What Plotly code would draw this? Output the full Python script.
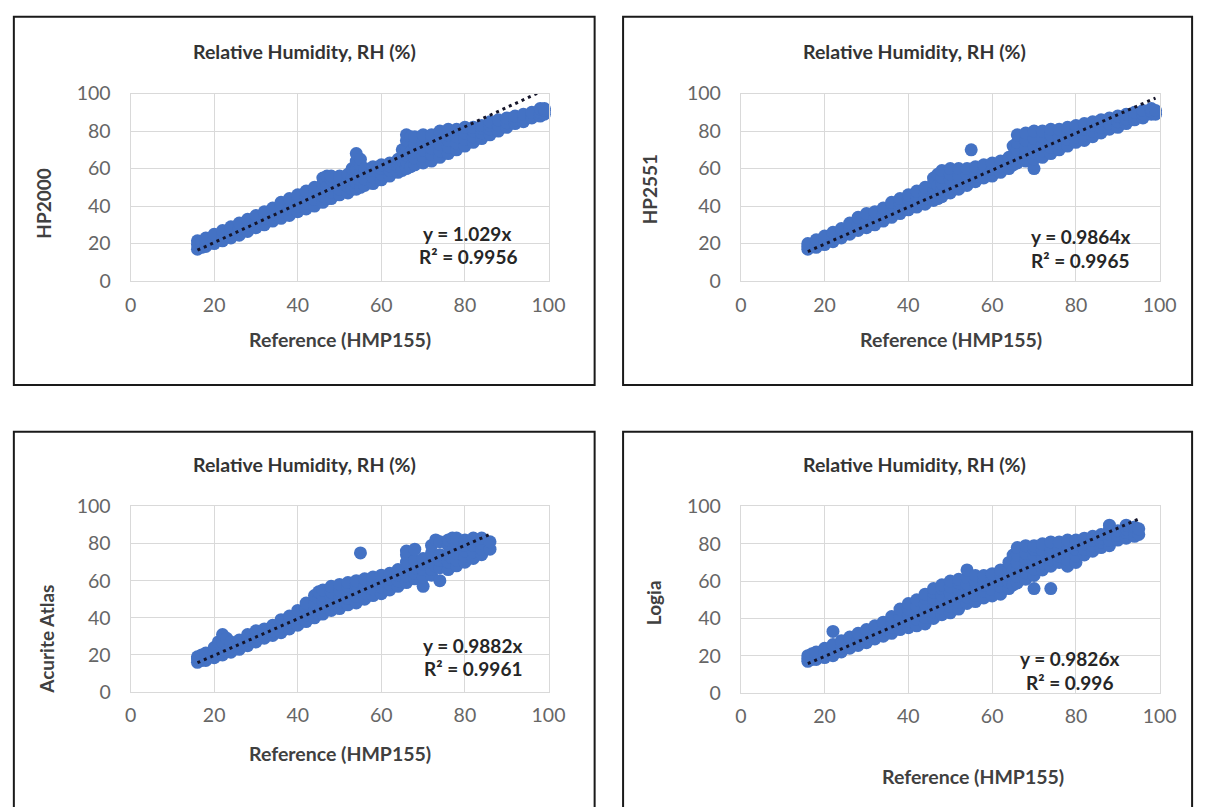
import plotly.graph_objects as go

W, H = 1214, 807

# Each row: [reference RH (HMP155), sensor readings observed at that reference value ...]
hp2000_cols = [
    [16, 17, 19.5, 21.5], [17, 18, 21], [18, 18.5, 21, 23], [20, 20, 22.5, 25],
    [22, 21.5, 24.5, 27], [24, 23, 26, 29], [26, 24.5, 28, 31], [28, 26.5, 30, 33],
    [30, 28.5, 32, 35], [32, 30, 33.5, 37], [34, 32, 35.5, 39], [36, 33.5, 37, 40, 42],
    [38, 35, 38.5, 41.5, 44], [40, 37, 40, 43, 46], [42, 38.5, 41.5, 45, 48],
    [44, 40, 43.5, 47, 50], [46, 42, 45.5, 49, 52, 55], [47, 44, 50, 56],
    [48, 44, 47.5, 51, 54, 56], [50, 46, 49, 52.5, 56], [52, 47, 50.5, 54, 57],
    [53, 49, 55, 60], [54, 49, 52.5, 56, 60, 64, 68], [55, 50, 54, 58, 62, 65],
    [56, 51, 54.5, 58, 60], [58, 52, 55.5, 59, 61], [60, 54, 57, 60, 62],
    [62, 56, 59, 61.5, 63], [64, 58, 61, 63, 65], [65, 59, 64, 70],
    [66, 60, 63.5, 67, 71, 75, 78], [67, 61, 69, 77], [68, 62, 65.5, 69, 73, 77],
    [70, 63, 66.5, 70, 74, 78], [72, 64, 67.5, 71, 75, 78], [74, 66, 69.5, 73, 77, 80],
    [76, 68, 71.5, 75, 78, 81], [78, 70, 73.5, 77, 81], [80, 72, 75.5, 79, 82],
    [82, 74, 77, 80, 82], [84, 76, 79, 81.5, 83], [86, 78, 81, 83, 85],
    [88, 80, 83, 86], [90, 82, 84.5, 87], [92, 84, 86, 88], [94, 85, 87, 89],
    [96, 87, 88.5, 90], [98, 88, 90, 92], [99, 89, 91, 92],
]

hp2551_cols = [
    [16, 17, 18.5, 20], [18, 18, 20, 22], [20, 19.5, 22, 24], [22, 21, 23.5, 26],
    [24, 23, 25.5, 28], [26, 25, 28, 31], [28, 27, 30.5, 34], [30, 28.5, 32, 36],
    [32, 30, 33.5, 37], [34, 32, 35.5, 39], [36, 34, 37.5, 41, 42], [38, 36, 39, 42, 44],
    [40, 38, 41, 44, 46], [42, 39.5, 42.5, 45.5, 48], [44, 41, 44, 47, 50],
    [46, 43, 46, 49.5, 52.5, 55], [47, 44, 51, 57], [48, 45, 48.5, 52, 55.5, 59],
    [50, 47, 50.5, 54, 57, 60], [52, 49, 52.5, 56, 60], [54, 51, 54, 57, 60],
    [55, 70], [56, 53, 56, 58.5, 61], [58, 55, 58, 62], [60, 56, 59.5, 63],
    [62, 58, 61, 64], [64, 60, 63, 66], [65, 62, 67, 72], [66, 63, 66.5, 70, 74, 78],
    [68, 64, 67.5, 71, 75, 79], [70, 60, 65, 68.5, 72, 76, 80], [72, 66, 69.5, 73, 77, 80],
    [74, 68, 71.5, 75, 78, 81], [76, 70, 73.5, 77, 81], [78, 72, 75.5, 79, 82],
    [80, 74, 77, 80, 83], [82, 75, 78, 81, 84], [84, 77, 80, 83, 85], [86, 79, 82, 86],
    [88, 81, 84, 87], [90, 82, 85, 88], [92, 84, 86.5, 89], [94, 86, 88, 90],
    [96, 87, 89, 91], [98, 89, 90.5, 92], [99, 89, 91],
]

acurite_cols = [
    [16, 16, 18, 19], [17, 17, 20], [18, 17, 19, 21], [20, 18.5, 21, 24], [21, 20, 27],
    [22, 20, 23, 27, 31], [23, 22, 29], [24, 21.5, 24.5, 27], [26, 23, 25.5, 28],
    [28, 25, 28, 31], [30, 27, 30, 33], [32, 29, 31.5, 34], [34, 30.5, 33, 36],
    [36, 32, 35.5, 39], [38, 34, 37.5, 41], [40, 36, 40, 44], [42, 38, 41.5, 45, 48],
    [44, 40, 44, 48, 52], [45, 42, 50, 54], [46, 42, 45.5, 49, 52, 55],
    [48, 44, 47.5, 51, 54, 57], [50, 45, 48.5, 52, 55, 58], [52, 47, 50.5, 54, 57, 59],
    [54, 48, 51.5, 55, 58, 60], [55, 75], [56, 50, 53.5, 57, 61], [58, 52, 55.5, 59, 62],
    [60, 53, 56.5, 60, 63], [62, 55, 58, 61, 64], [64, 57, 60, 63, 66],
    [66, 59, 62.5, 66, 70, 74, 76], [68, 61, 64, 67, 71, 77], [70, 57, 62, 66, 69, 72],
    [72, 63, 66, 70, 75, 79], [73, 68, 82], [74, 60, 67, 71, 74, 81],
    [76, 66, 70, 74, 79, 82], [77, 72, 83], [78, 68, 71, 75, 80, 83],
    [80, 70, 73, 76, 79, 82], [82, 72, 75.5, 79, 83], [84, 74, 77, 80, 83], [86, 77, 81],
]

logia_cols = [
    [16, 17, 18.5, 20], [17, 18, 21], [18, 18, 20, 22], [20, 19, 21.5, 24],
    [22, 20, 23, 26, 33], [24, 22, 25, 28], [26, 24, 27, 30], [28, 25.5, 29, 32],
    [30, 27, 30.5, 34], [32, 29, 32.5, 36], [34, 30.5, 34, 38], [36, 32, 35.5, 38.5, 41],
    [38, 34, 37.5, 41, 45], [40, 35, 38.5, 42, 45, 48], [42, 36, 39.5, 43, 46.5, 50],
    [44, 37, 40.5, 44, 47.5, 51, 53], [46, 40, 43.5, 47, 50.5, 54, 56],
    [48, 42, 45.5, 49, 52.5, 56, 58], [50, 43, 46.5, 50, 53.5, 57, 60],
    [52, 45, 48.5, 52, 55.5, 59, 61], [54, 48, 51.5, 55, 58.5, 62, 66],
    [56, 49, 52.5, 56, 59.5, 63], [58, 51, 54.5, 58, 61, 63], [60, 52, 55.5, 59, 62, 64],
    [62, 53, 57, 60.5, 63.5, 66], [64, 56, 59.5, 63, 66.5, 70], [65, 58, 66, 74],
    [66, 59, 62.5, 66, 70, 74, 78], [68, 61, 64.5, 68, 71.5, 75, 79],
    [70, 56, 63, 66.5, 70, 73.5, 77, 79], [72, 66, 69.5, 73, 76.5, 80],
    [74, 56, 68, 71.5, 75, 78, 81], [76, 70, 73.5, 77, 81], [78, 68, 71.5, 75, 78.5, 82],
    [80, 70, 73.5, 77, 80, 82], [82, 74, 77, 80, 83], [84, 76, 79, 82, 84],
    [86, 78, 81, 83, 85], [88, 79, 82, 85, 88, 90], [90, 82, 84.5, 87],
    [92, 83, 86, 88, 90], [94, 84, 86.5, 89], [95, 85, 88],
]

sensor_names = ["HP2000", "HP2551", "Acurite Atlas", "Logia"]
slopes = [1.029, 0.9864, 0.9882, 0.9826]
eq_labels = ["y = 1.029x", "y = 0.9864x", "y = 0.9882x", "y = 0.9826x"]
r2_labels = ["R² = 0.9956", "R² = 0.9965", "R² = 0.9961", "R² = 0.996"]
tick_vals = [0, 20, 40, 60, 80, 100]
chart_title = "Relative Humidity, RH (%)"
x_title = "Reference (HMP155)"

FONT = "Lato"
BLUE = "#4472C4"


def px(x):
    return x / W


def py(y):
    return 1 - y / H


# pixel layout of each panel (plot area and chart box)
panels = [
    dict(plot=(127, 553, 84, 277), box=(8, 600, 5, 384), title=(304, 41),
         xt=(340, 337), yt=(38, 197), eq=(470, 228), r2=(471, 252)),
    dict(plot=(749, 1176, 84, 277), box=(629, 1209, 5, 384), title=(926, 41),
         xt=(963, 337), yt=(656, 183), eq=(1095, 231), r2=(1095, 256)),
    dict(plot=(127, 553, 509, 700), box=(8, 600, 432, 820), title=(304, 466),
         xt=(340, 763), yt=(41, 646), eq=(476, 652), r2=(476, 676)),
    dict(plot=(749, 1176, 509, 701), box=(629, 1209, 432, 820), title=(926, 466),
         xt=(986, 787), yt=(660, 608), eq=(1084, 665), r2=(1084, 690)),
]

data_cols = [hp2000_cols, hp2551_cols, acurite_cols, logia_cols]

fig = go.Figure()
shapes = []
annotations = []
layout_axes = {}

for i, (cols, p) in enumerate(zip(data_cols, panels)):
    n = "" if i == 0 else str(i + 1)
    xa, ya = "x" + n, "y" + n
    ref = [row[0] for row in cols for _ in row[1:]]
    val = [v for row in cols for v in row[1:]]
    fig.add_trace(go.Scatter(
        x=ref, y=val, mode="markers", xaxis=xa, yaxis=ya,
        marker=dict(color=BLUE, size=13, line=dict(width=0)),
        cliponaxis=False, showlegend=False, hoverinfo="skip"))
    x_lo, x_hi = min(ref), max(ref)
    fig.add_trace(go.Scatter(
        x=[x_lo, x_hi], y=[slopes[i] * x_lo, slopes[i] * x_hi], mode="lines",
        xaxis=xa, yaxis=ya,
        line=dict(color="#15152a", width=3, dash="3px,4px"),
        showlegend=False, hoverinfo="skip"))

    x0, x1, y0, y1 = p["plot"]
    axcommon = dict(range=[0, 100], tickvals=tick_vals, showgrid=True,
                    gridcolor="#d9d9d9", gridwidth=1, zeroline=False,
                    showline=True, mirror=True, linecolor="#d9d9d9", linewidth=1,
                    ticks="", tickfont=dict(family=FONT, size=19.5, color="#666666"),
                    fixedrange=True)
    layout_axes["xaxis" + n] = dict(axcommon, domain=[px(x0), px(x1)], anchor=ya,
                                    ticklabelstandoff=6)
    layout_axes["yaxis" + n] = dict(axcommon, domain=[py(y1), py(y0)], anchor=xa,
                                    ticklabelstandoff=15)

    bx0, bx1, by0, by1 = p["box"]
    shapes.append(dict(type="rect", xref="paper", yref="paper",
                       x0=px(bx0), x1=px(bx1), y0=py(by1), y1=py(by0),
                       line=dict(color="#1a1a1a", width=2), fillcolor="rgba(0,0,0,0)"))

    def ann(text, pos, size, color, angle=0):
        annotations.append(dict(text=text, x=px(pos[0]), y=py(pos[1]), xref="paper",
                                yref="paper", showarrow=False, textangle=angle,
                                xanchor="center", yanchor="middle",
                                font=dict(family=FONT, size=size, color=color)))

    ann("<b>" + chart_title + "</b>", p["title"], 19.5, "#333333")
    ann("<b>" + x_title + "</b>", p["xt"], 19.5, "#404040")
    ann("<b>" + sensor_names[i] + "</b>", p["yt"], 19, "#404040", angle=-90)
    ann("<b>" + eq_labels[i] + "</b>", p["eq"], 19, "#262626")
    ann("<b>" + r2_labels[i] + "</b>", p["r2"], 19, "#262626")

fig.update_layout(
    width=W, height=H, margin=dict(l=0, r=0, t=0, b=0),
    paper_bgcolor="white", plot_bgcolor="white",
    shapes=shapes, annotations=annotations, **layout_axes)

fig.write_html("out.html", config={"displayModeBar": False},
               post_script="document.body.style.margin='0px';"
                           "document.body.style.overflow='hidden';")
